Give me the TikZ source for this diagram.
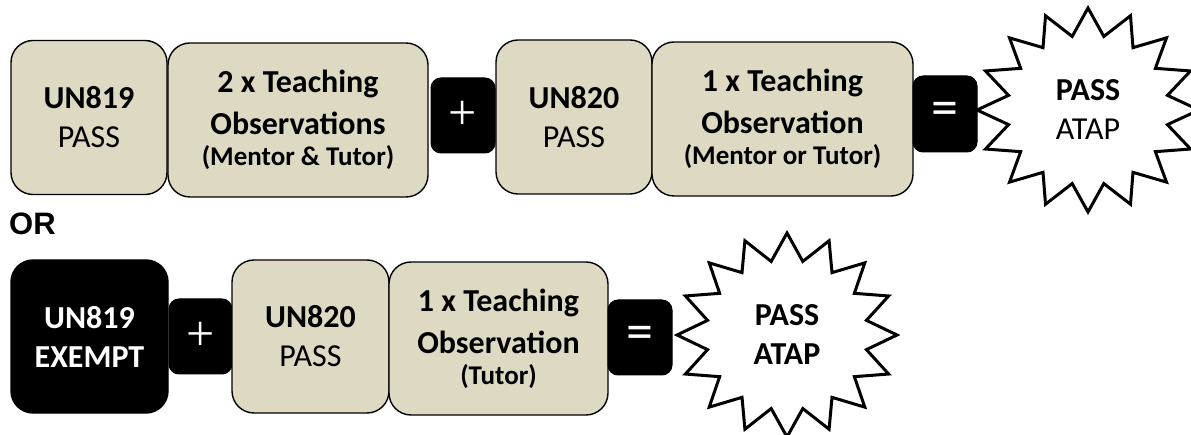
\documentclass[tikz,border=0pt]{standalone}
\usepackage{fontspec}
\setmainfont{Carlito}
\newfontfamily\orfont{Liberation Sans}
\newfontfamily\plusfont{Liberation Serif}
\definecolor{tan}{HTML}{DDD9C3}
\newcommand{\thirdline}[1]{\\[-8pt]{\fontsize{27}{32}\selectfont\bfseries #1}}
\tikzset{
  bigbox/.style={draw=black, fill=tan, line width=1.4pt, rounded corners=22pt, align=center, inner sep=0pt,
    font=\fontsize{32}{39}\selectfont},
  opbox/.style={draw=black, fill=black, line width=1pt, rounded corners=10pt, inner sep=0pt, text=white,
    font=\fontsize{54}{54}\selectfont},
  plusbox/.style={opbox, font=\plusfont\fontsize{50}{50}\selectfont},
  blackbox/.style={draw=black, fill=black, line width=1.4pt, rounded corners=22pt, align=center, inner sep=0pt,
    text=white, font=\fontsize{32}{39}\selectfont\bfseries},
  starline/.style={draw=black, fill=white, line width=3pt, line join=miter, miter limit=10},
  startext/.style={align=center, inner sep=0pt, font=\fontsize{32}{39}\selectfont}
}
\begin{document}
\begin{tikzpicture}[x=1pt,y=-1pt]
\useasboundingbox (0,0) rectangle (1191,435);
\clip (0,0) rectangle (1191,435);
% ---------- Row 1 ----------
\node[bigbox, minimum width=156, minimum height=154] (a1) at (89,117.5) {\textbf{UN819}\\PASS};
\node[bigbox, minimum width=260, minimum height=154] (b1) at (298,120) {\textbf{2 x Teaching}\\[3pt]\textbf{Observations}\thirdline{(Mentor \& Tutor)}};
\node[plusbox, minimum width=64, minimum height=75] (p1) at (463,115.5) {+};
\node[bigbox, minimum width=156, minimum height=154] (c1) at (574,117) {\textbf{UN820}\\PASS};
\node[bigbox, minimum width=261, minimum height=154] (d1) at (782.5,119) {\textbf{1 x Teaching}\\[3pt]\textbf{Observation}\thirdline{(Mentor or Tutor)}};
\node[opbox, minimum width=64, minimum height=76] (e1) at (945,114) {=};
\coordinate (s1) at (1088,110);
\draw[starline, shift={(s1)}] (90:111 and 102)
  \foreach \i in {1,...,15} { -- (90+\i*22.5-11.25:81 and 75) -- (90+\i*22.5:111 and 102) }
  -- (90-11.25:81 and 75) -- cycle;
\node[startext] (t1) at (s1) {\textbf{PASS}\\ATAP};
% ---------- OR ----------
\node[anchor=north west, inner sep=0pt, font=\orfont\fontsize{31}{31}\selectfont\bfseries] (or) at (9,213) {OR};
% ---------- Row 2 ----------
\node[blackbox, minimum width=157, minimum height=153] (a2) at (89.5,336.5) {UN819\\EXEMPT};
\node[plusbox, minimum width=63, minimum height=75] (p2) at (200.5,336.5) {+};
\node[bigbox, minimum width=157, minimum height=153] (c2) at (310.5,336.5) {\textbf{UN820}\\PASS};
\node[bigbox, minimum width=219, minimum height=153] (d2) at (498.5,338.5) {\textbf{1 x Teaching}\\[3pt]\textbf{Observation}\thirdline{(Tutor)}};
\node[opbox, minimum width=64, minimum height=75] (e2) at (640,337.5) {=};
\coordinate (s2) at (787,335);
\draw[starline, shift={(s2)}] (90:110 and 102)
  \foreach \i in {1,...,15} { -- (90+\i*22.5-11.25:81 and 75) -- (90+\i*22.5:110 and 102) }
  -- (90-11.25:81 and 75) -- cycle;
\node[startext, font=\fontsize{32}{39}\selectfont\bfseries] (t2) at (s2) {PASS\\ATAP};
\end{tikzpicture}
\end{document}
